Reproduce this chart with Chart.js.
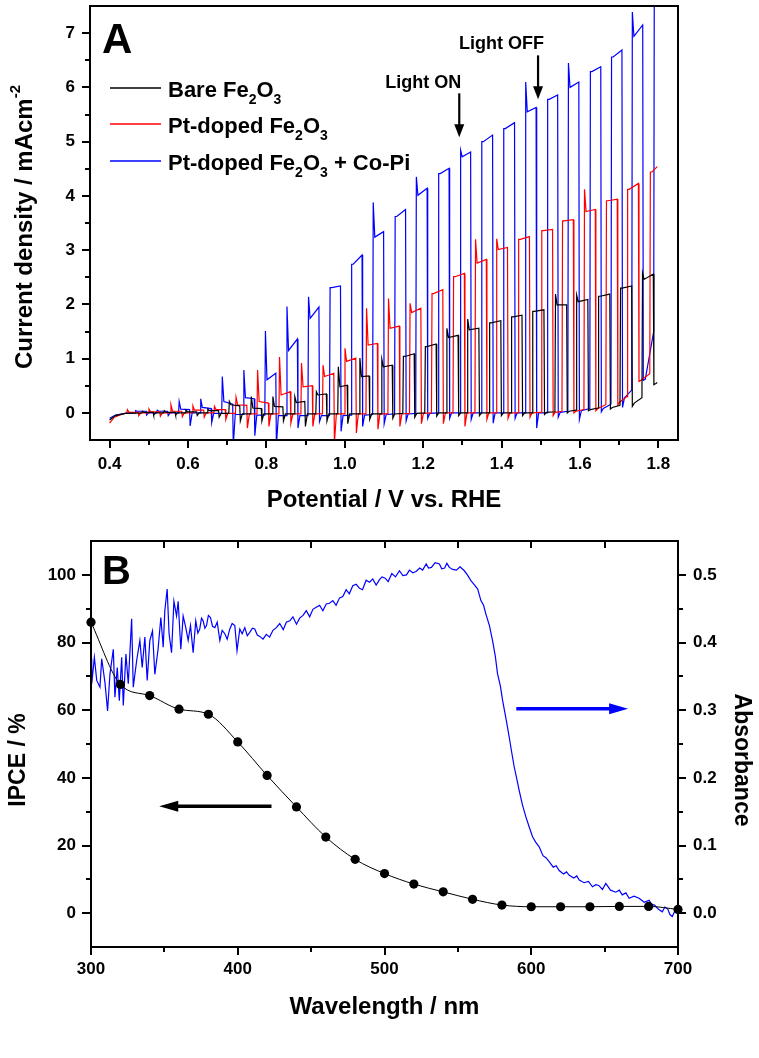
<!DOCTYPE html>
<html><head><meta charset="utf-8">
<script src="https://cdn.jsdelivr.net/npm/chart.js@4.4.1/dist/chart.umd.min.js"></script>
<style>
html,body{margin:0;padding:0;background:#fff;}
#wrapA{position:absolute;left:0;top:0;width:759px;height:530px;}
#wrapB{position:absolute;left:0;top:530px;width:759px;height:528px;}
canvas{display:block;}
</style></head><body>
<div id="wrapA"><canvas id="cA" width="759" height="530"></canvas></div>
<div id="wrapB"><canvas id="cB" width="759" height="528"></canvas></div>
<script>
const FF = '"Liberation Sans", Arial, Helvetica, sans-serif';

// ================= Panel A data (chopped-light LSV) =================
const potentialTicks = [0.4, 0.6, 0.8, 1.0, 1.2, 1.4, 1.6, 1.8];
const potentialMinor = [0.5, 0.7, 0.9, 1.1, 1.3, 1.5, 1.7];
const currentTicks = [0, 1, 2, 3, 4, 5, 6, 7];
const currentMinor = [0.5, 1.5, 2.5, 3.5, 4.5, 5.5, 6.5];

// Bare Fe2O3 (black)
const bareHeadV = [0.400, 0.415, 0.440];
const bareHeadJ = [-0.13, -0.05, -0.01];
const bareOnV   = [0.482,0.538,0.593,0.649,0.704,0.760,0.815,0.871,0.926,0.982,1.037,1.093,1.148,1.204,1.259,1.312,1.368,1.424,1.478,1.536,1.590,1.646,1.702,1.758];
const bareOffV  = [0.511,0.567,0.622,0.678,0.732,0.787,0.842,0.898,0.953,1.006,1.062,1.121,1.177,1.233,1.289,1.342,1.398,1.452,1.508,1.566,1.620,1.676,1.732,1.787];
const barePreJ  = [0,0,0,0,-0.01,-0.02,-0.02,-0.02,-0.02,-0.02,-0.02,-0.02,-0.01,0,0,0,0,0,0,0.02,0.05,0.09,0.14,0.28];
const barePeakJ = [0.03,0.04,0.05,0.07,0.21,0.30,0.30,0.30,0.39,0.85,1.01,0.99,1.04,1.22,1.56,1.73,1.66,1.77,1.87,2.19,2.17,2.15,2.30,2.58];
const bareStartJ= [0.01,0.01,0.02,0.04,0.15,0.09,0.12,0.19,0.33,0.48,0.67,0.85,1.04,1.22,1.39,1.53,1.66,1.77,1.87,1.99,2.05,2.15,2.30,2.46];
const bareEndJ  = [0.01,0.01,0.02,0.04,0.13,0.08,0.11,0.21,0.35,0.51,0.68,0.88,1.09,1.27,1.43,1.56,1.70,1.80,1.90,1.99,2.09,2.19,2.34,2.56];
const bareDipJ  = [-0.04,-0.04,-0.05,-0.08,-0.15,-0.15,-0.15,-0.25,-0.15,-0.20,-0.12,-0.10,-0.08,-0.06,-0.05,-0.05,-0.05,-0.05,-0.03,0.00,0.04,0.07,0.12,0.52];
const bareBaseJ = [0,0,0,-0.01,-0.02,-0.02,-0.02,-0.02,-0.02,-0.02,-0.02,-0.02,-0.01,0,0,0,0,0,0.01,0.03,0.06,0.10,0.18,0.54];
const bareTailV = [1.797];
const bareTailJ = [0.56];

// Pt-doped Fe2O3 (red)
const ptHeadV = [0.400, 0.412, 0.430];
const ptHeadJ = [-0.19, -0.08, -0.03];
const ptOnV   = [0.444,0.499,0.555,0.611,0.666,0.721,0.776,0.832,0.888,0.943,0.999,1.054,1.110,1.165,1.221,1.276,1.332,1.386,1.442,1.501,1.554,1.610,1.666,1.720,1.778];
const ptOffV  = [0.473,0.528,0.584,0.640,0.695,0.750,0.805,0.861,0.917,0.972,1.028,1.083,1.139,1.194,1.250,1.305,1.361,1.415,1.471,1.530,1.583,1.639,1.695,1.749,1.797];
const ptPreJ  = [0,0,0,0,0,-0.01,-0.02,-0.02,-0.02,-0.02,-0.02,-0.02,-0.02,-0.01,0,0,0,0,0,0.01,0.03,0.06,0.15,0.30,0.72];
const ptPeakJ = [0.06,0.07,0.15,0.13,0.12,0.29,0.79,1.03,0.92,0.88,1.19,1.93,2.11,2.02,2.20,2.51,3.20,3.21,3.20,3.36,3.54,4.12,3.91,4.12,4.44];
const ptStartJ= [0.01,0.02,0.03,0.05,0.06,0.15,0.21,0.33,0.48,0.67,0.95,1.25,1.56,1.85,2.20,2.51,2.76,3.01,3.20,3.36,3.54,3.71,3.91,4.12,4.44];
const ptEndJ  = [0.01,0.02,0.03,0.05,0.06,0.14,0.18,0.39,0.50,0.73,1.01,1.28,1.60,1.93,2.27,2.57,2.83,3.05,3.25,3.38,3.56,3.75,3.94,4.23,4.54];
const ptDipJ  = [-0.05,-0.06,-0.07,-0.08,-0.12,-0.28,-0.25,-0.19,-0.25,-0.55,-0.37,-0.30,-0.25,-0.20,-0.20,-0.25,-0.12,-0.10,-0.08,-0.05,0.00,0.04,0.15,0.58,null];
const ptBaseJ = [0,0,0,0,-0.01,-0.02,-0.02,-0.02,-0.02,-0.02,-0.02,-0.02,-0.02,-0.01,0,0,0,0,0,0.01,0.03,0.08,0.20,0.60,null];

// Pt-doped Fe2O3 + Co-Pi (blue)
const copiHeadV = [0.400, 0.415, 0.440];
const copiHeadJ = [-0.10, -0.04, -0.01];
const copiOnV   = [0.465,0.520,0.576,0.631,0.686,0.741,0.796,0.851,0.906,0.961,1.016,1.071,1.127,1.181,1.238,1.294,1.348,1.404,1.460,1.516,1.569,1.625,1.679,1.732,1.788];
const copiOffV  = [0.493,0.548,0.604,0.659,0.714,0.769,0.824,0.879,0.934,0.989,1.044,1.099,1.155,1.210,1.266,1.321,1.377,1.433,1.488,1.543,1.597,1.653,1.707,1.760,1.792];
const copiPreJ  = [0,0,0,0,-0.01,-0.03,-0.04,-0.05,-0.05,-0.05,-0.04,-0.03,-0.02,-0.01,0,0,0,0,0,0,0.03,0.08,0.16,0.42,1.50];
const copiPeakJ = [0.04,0.05,0.21,0.26,0.67,0.79,1.51,1.96,2.14,2.31,2.74,3.88,3.62,4.35,4.41,4.84,5.00,5.24,6.10,5.78,6.45,6.29,6.56,7.39,7.90];
const copiStartJ= [0.03,0.03,0.07,0.10,0.21,0.28,0.61,1.15,1.74,2.31,2.74,3.24,3.62,4.01,4.41,4.72,5.00,5.24,5.55,5.78,6.00,6.29,6.56,6.94,7.90];
const copiEndJ  = [0.03,0.03,0.06,0.08,0.16,0.26,0.73,1.36,1.95,2.34,2.91,3.34,3.75,4.14,4.51,4.81,5.12,5.35,5.63,5.86,6.10,6.38,6.69,7.15,7.90];
const copiDipJ  = [-0.04,-0.05,-0.24,-0.18,-0.60,-0.42,-0.60,-0.28,-0.16,-0.34,-0.25,-0.20,-0.15,-0.10,-0.10,-0.12,-0.19,-0.10,-0.28,-0.08,-0.12,0.02,0.10,0.60,null];
const copiBaseJ = [0,0,0,-0.01,-0.03,-0.04,-0.05,-0.05,-0.05,-0.05,-0.04,-0.03,-0.02,-0.01,0,0,0,0,0,0.01,0.04,0.08,0.28,0.62,null];

// ================= Panel B data =================
const wavelengthTicks = [300, 400, 500, 600, 700];
const wavelengthMinor = [350, 450, 550, 650];
const ipceTicks = [0, 20, 40, 60, 80, 100];
const ipceMinor = [10, 30, 50, 70, 90];
const absTicks = [0, 0.1, 0.2, 0.3, 0.4, 0.5];
const absMinor = [0.05, 0.15, 0.25, 0.35, 0.45];

const ipceNm  = [300,320,340,360,380,400,420,440,460,480,500,520,540,560,580,600,620,640,660,680,700];
const ipceVal = [86.0,67.6,64.3,60.3,58.8,50.6,40.7,31.4,22.5,15.9,11.7,8.6,6.3,4.1,2.4,1.9,1.9,1.9,2.0,2.0,1.1];

const absNm = [300,300.5,302.3,303.9,306.1,307.3,309.5,311.3,312.9,315.2,316.3,317.9,319.3,320.9,322.0,323.8,325.4,327.7,328.8,331.1,
  333.3,334.9,336.7,338.3,340.1,341.9,343.5,345.7,347.6,349.2,350.3,351.9,353.2,354.9,356.5,358.3,359.4,361.2,362.8,364.6,
  366.2,367.8,369.6,371.4,372.8,374.1,375.3,376.4,377.6,378.7,380.0,381.4,382.8,384.4,386.0,387.8,389.4,391.2,392.8,394.6,396.2,398.0,399.5,401.4,
  403.0,404.8,406.5,408.2,410.0,411.6,413.3,415.0,417.2,419.5,421.7,424.0,426.3,428.6,431.0,433.1,435.5,437.6,440.0,442.2,444.5,446.7,449.0,451.2,453.5,455.8,
  458.0,460.3,462.5,464.8,467.0,469.4,471.6,473.9,476.0,478.4,480.7,483.0,485.0,487.5,489.8,492.0,494.3,496.6,498.3,500.5,502.5,505.0,507.5,510.2,512.5,515.0,
  517.0,519.3,521.5,524.0,526.0,528.4,530.0,532.0,534.5,537.4,539.0,541.0,542.5,544.2,546.5,549.0,551.5,554.4,556.5,559.0,561.0,563.5,565.7,567.5,569.1,
  571.5,573.6,575.5,577.0,579.0,580.5,583.0,585.0,586.5,588.4,590.0,591.8,594.0,596.4,598.5,600.9,603.0,605.4,608.0,610.0,612.2,615.0,617.0,619.0,622.0,
  624.0,625.9,629.0,631.0,632.7,636.0,639.0,641.7,644.0,646.0,648.5,650.8,654.0,657.6,660.0,662.0,664.5,666.7,670.0,673.5,677.0,680.3,682.0,684.0,686.5,
  689.3,691.0,693.0,694.5,696.1,698.0,700.0];
const absVal = [0.376,0.339,0.378,0.344,0.334,0.376,0.341,0.299,0.353,0.390,0.319,0.363,0.314,0.378,0.307,0.383,0.339,0.435,0.334,0.373,
  0.403,0.363,0.408,0.344,0.403,0.417,0.353,0.390,0.437,0.393,0.447,0.479,0.413,0.385,0.461,0.439,0.461,0.390,0.439,0.422,
  0.403,0.425,0.385,0.432,0.414,0.420,0.436,0.432,0.421,0.425,0.440,0.437,0.424,0.422,0.430,0.403,0.418,0.413,0.405,0.420,0.428,0.425,0.388,0.420,
  0.413,0.422,0.410,0.415,0.421,0.420,0.411,0.409,0.405,0.412,0.408,0.418,0.422,0.428,0.419,0.430,0.432,0.438,0.427,0.436,0.440,0.447,0.438,0.449,0.452,0.455,
  0.447,0.457,0.458,0.462,0.455,0.466,0.468,0.478,0.472,0.484,0.486,0.480,0.478,0.492,0.489,0.494,0.485,0.493,0.497,0.495,0.490,0.502,0.497,0.506,0.499,0.500,
  0.507,0.503,0.505,0.510,0.507,0.516,0.510,0.511,0.518,0.516,0.509,0.510,0.517,0.511,0.508,0.507,0.512,0.506,0.500,0.491,0.486,0.479,0.462,0.455,0.442,
  0.425,0.403,0.380,0.354,0.335,0.314,0.285,0.260,0.240,0.216,0.200,0.181,0.160,0.142,0.128,0.113,0.105,0.098,0.085,0.082,0.076,0.068,0.070,0.063,0.058,
  0.061,0.056,0.052,0.055,0.049,0.045,0.047,0.039,0.042,0.041,0.035,0.044,0.034,0.031,0.034,0.027,0.030,0.022,0.025,0.022,0.016,0.019,0.013,0.012,0.006,
  0.002,0.009,0.006,-0.002,-0.005,0.004,0.002];

// ================= helpers =================
function buildTrace(headV, headJ, onV, offV, preJ, peakJ, startJ, endJ, dipJ, baseJ, tailV, tailJ) {
  const pts = headV.map((v, i) => ({x: v, y: headJ[i]}));
  for (let i = 0; i < onV.length; i++) {
    pts.push({x: onV[i], y: preJ[i]});
    pts.push({x: onV[i] + 0.0015, y: peakJ[i]});
    pts.push({x: onV[i] + 0.0055, y: startJ[i]});
    pts.push({x: offV[i], y: endJ[i]});
    if (dipJ[i] !== null) {
      pts.push({x: offV[i] + 0.0015, y: dipJ[i]});
      pts.push({x: offV[i] + 0.0065, y: baseJ[i]});
    }
  }
  (tailV || []).forEach((v, i) => pts.push({x: v, y: tailJ[i]}));
  return pts;
}
function font(sz) { return 'bold ' + sz + 'px ' + FF; }
function richWidth(ctx, segs, size) {
  let w = 0;
  for (const s of segs) { ctx.font = font((s.sub || s.sup) ? Math.round(size * 0.64) : size); w += ctx.measureText(s.t).width; }
  return w;
}
function drawRich(ctx, segs, x, y, size, align) {
  const w = richWidth(ctx, segs, size);
  let cx = align === 'center' ? x - w / 2 : x;
  ctx.textAlign = 'left'; ctx.textBaseline = 'alphabetic';
  for (const s of segs) {
    const fs = (s.sub || s.sup) ? Math.round(size * 0.64) : size;
    ctx.font = font(fs);
    const dy = s.sub ? size * 0.32 : (s.sup ? -size * 0.48 : 0);
    ctx.fillText(s.t, cx, y + dy);
    cx += ctx.measureText(s.t).width;
  }
}
function arrow(ctx, x1, y1, x2, y2, color, lw, hl, hw) {
  const dx = x2 - x1, dy = y2 - y1, L = Math.hypot(dx, dy), ux = dx / L, uy = dy / L;
  const bx = x2 - ux * hl, by = y2 - uy * hl;
  ctx.save();
  ctx.strokeStyle = color; ctx.fillStyle = color; ctx.lineWidth = lw;
  ctx.beginPath(); ctx.moveTo(x1, y1); ctx.lineTo(bx + ux * 1, by + uy * 1); ctx.stroke();
  ctx.beginPath(); ctx.moveTo(x2, y2); ctx.lineTo(bx - uy * hw, by + ux * hw); ctx.lineTo(bx + uy * hw, by - ux * hw); ctx.closePath(); ctx.fill();
  ctx.restore();
}
function decor(tickSpecs) {
  return {
    id: 'decor',
    afterDraw(chart) {
      const ctx = chart.ctx, a = chart.chartArea;
      ctx.save();
      ctx.strokeStyle = '#000';
      ctx.lineWidth = 2;
      ctx.strokeRect(a.left, a.top, a.right - a.left, a.bottom - a.top);
      for (const t of tickSpecs) {
        const sc = chart.scales[t.scale];
        ctx.lineWidth = t.w || 2;
        ctx.beginPath();
        for (const v of t.values) {
          const p = Math.round(sc.getPixelForValue(v));
          if (t.side === 'left') { ctx.moveTo(a.left, p); ctx.lineTo(a.left - t.len, p); }
          else if (t.side === 'right') { ctx.moveTo(a.right, p); ctx.lineTo(a.right + t.len, p); }
          else if (t.side === 'bottom') { ctx.moveTo(p, a.bottom); ctx.lineTo(p, a.bottom + t.len); }
          else if (t.side === 'top') { ctx.moveTo(p, a.top); ctx.lineTo(p, a.top + t.len); }
        }
        ctx.stroke();
      }
      ctx.restore();
    }
  };
}
const tickFont = {family: FF, size: 17, weight: 'bold'};
function fixV(w) { return s => { s.width = w; s.paddingTop = 0; s.paddingBottom = 0; }; }
function fixH(h) { return s => { s.height = h; s.paddingLeft = 0; s.paddingRight = 0; }; }

// ================= Chart A =================
const textA = {
  id: 'textA',
  afterDraw(chart) {
    const ctx = chart.ctx, a = chart.chartArea, xs = chart.scales.x, ys = chart.scales.y;
    ctx.save();
    ctx.fillStyle = '#000';
    ctx.font = font(42); ctx.textAlign = 'left'; ctx.textBaseline = 'alphabetic';
    ctx.fillText('A', a.left + 12, a.top + 47);
    const legend = [
      {c: '#000000', segs: [{t: 'Bare Fe'}, {t: '2', sub: 1}, {t: 'O'}, {t: '3', sub: 1}]},
      {c: '#ff0000', segs: [{t: 'Pt-doped Fe'}, {t: '2', sub: 1}, {t: 'O'}, {t: '3', sub: 1}]},
      {c: '#0000ff', segs: [{t: 'Pt-doped Fe'}, {t: '2', sub: 1}, {t: 'O'}, {t: '3', sub: 1}, {t: ' + Co-Pi'}]}
    ];
    const ly = [88, 124, 161];
    legend.forEach((l, i) => {
      ctx.strokeStyle = l.c; ctx.lineWidth = 1.3;
      ctx.beginPath(); ctx.moveTo(a.left + 20, ly[i]); ctx.lineTo(a.left + 71, ly[i]); ctx.stroke();
      ctx.fillStyle = '#000';
      drawRich(ctx, l.segs, a.left + 78, ly[i] + 8.5, 22, 'left');
    });
    ctx.font = font(18); ctx.textAlign = 'center'; ctx.textBaseline = 'alphabetic';
    ctx.fillText('Light ON', xs.getPixelForValue(1.200), ys.getPixelForValue(5.99));
    ctx.fillText('Light OFF', xs.getPixelForValue(1.400), ys.getPixelForValue(6.70));
    arrow(ctx, xs.getPixelForValue(1.292), ys.getPixelForValue(5.89), xs.getPixelForValue(1.292), ys.getPixelForValue(5.08), '#000', 2.2, 13, 5);
    arrow(ctx, xs.getPixelForValue(1.493), ys.getPixelForValue(6.59), xs.getPixelForValue(1.493), ys.getPixelForValue(5.78), '#000', 2.2, 13, 5);
    ctx.fillStyle = '#000';
    drawRich(ctx, [{t: 'Potential / V vs. RHE'}], (a.left + a.right) / 2, 507, 24, 'center');
    ctx.save();
    ctx.translate(32, 227); ctx.rotate(-Math.PI / 2);
    drawRich(ctx, [{t: 'Current density / mAcm'}, {t: '-2', sup: 1}], 0, 0, 24, 'center');
    ctx.restore();
    ctx.restore();
  }
};

new Chart(document.getElementById('cA'), {
  type: 'line',
  data: {
    datasets: [
      {label: 'Bare Fe2O3', data: buildTrace(bareHeadV, bareHeadJ, bareOnV, bareOffV, barePreJ, barePeakJ, bareStartJ, bareEndJ, bareDipJ, bareBaseJ, bareTailV, bareTailJ), borderColor: '#000000', borderWidth: 1.2},
      {label: 'Pt-doped Fe2O3', data: buildTrace(ptHeadV, ptHeadJ, ptOnV, ptOffV, ptPreJ, ptPeakJ, ptStartJ, ptEndJ, ptDipJ, ptBaseJ), borderColor: '#ff0000', borderWidth: 1.2},
      {label: 'Pt-doped Fe2O3 + Co-Pi', data: buildTrace(copiHeadV, copiHeadJ, copiOnV, copiOffV, copiPreJ, copiPeakJ, copiStartJ, copiEndJ, copiDipJ, copiBaseJ), borderColor: '#0000ff', borderWidth: 1.2}
    ]
  },
  options: {
    responsive: false, animation: false,
    layout: {padding: {left: 0, right: 81, top: 6, bottom: 0}},
    plugins: {legend: {display: false}, tooltip: {enabled: false}},
    elements: {point: {radius: 0}, line: {tension: 0}},
    scales: {
      x: {type: 'linear', min: 0.35, max: 1.85,
        grid: {display: false, drawTicks: false}, border: {display: false},
        afterBuildTicks: s => { s.ticks = potentialTicks.map(v => ({value: v})); },
        afterFit: fixH(90),
        ticks: {font: tickFont, color: '#000', padding: 14, maxRotation: 0, autoSkip: false, callback: v => Number(v).toFixed(1)}},
      y: {type: 'linear', min: -0.5, max: 7.5,
        grid: {display: false, drawTicks: false}, border: {display: false},
        afterBuildTicks: s => { s.ticks = currentTicks.map(v => ({value: v})); },
        afterFit: fixV(90),
        ticks: {font: tickFont, color: '#000', padding: 15, callback: v => String(v)}}
    }
  },
  plugins: [decor([
    {scale: 'y', side: 'left', values: currentTicks, len: 8},
    {scale: 'y', side: 'left', values: currentMinor, len: 5},
    {scale: 'x', side: 'bottom', values: potentialTicks, len: 8},
    {scale: 'x', side: 'bottom', values: potentialMinor, len: 5}
  ]), textA]
});

// ================= Chart B =================
const textB = {
  id: 'textB',
  afterDraw(chart) {
    const ctx = chart.ctx, a = chart.chartArea, xs = chart.scales.x, yl = chart.scales.y, yr = chart.scales.y2;
    ctx.save();
    ctx.fillStyle = '#000';
    ctx.font = font(40); ctx.textAlign = 'left'; ctx.textBaseline = 'alphabetic';
    ctx.fillText('B', a.left + 11, a.top + 43);
    arrow(ctx, xs.getPixelForValue(423), yl.getPixelForValue(31.6), xs.getPixelForValue(346.5), yl.getPixelForValue(31.6), '#000', 3.5, 19, 5.5);
    arrow(ctx, xs.getPixelForValue(589.8), yr.getPixelForValue(0.302), xs.getPixelForValue(666), yr.getPixelForValue(0.302), '#0000ff', 3.5, 19, 5.5);
    ctx.fillStyle = '#000';
    drawRich(ctx, [{t: 'Wavelength / nm'}], (a.left + a.right) / 2, 484, 24, 'center');
    ctx.save();
    ctx.translate(25, 230); ctx.rotate(-Math.PI / 2);
    drawRich(ctx, [{t: 'IPCE / %'}], 0, 0, 23, 'center');
    ctx.restore();
    ctx.save();
    ctx.translate(735, 230); ctx.rotate(Math.PI / 2);
    drawRich(ctx, [{t: 'Absorbance'}], 0, 0, 23, 'center');
    ctx.restore();
    ctx.restore();
  }
};

new Chart(document.getElementById('cB'), {
  type: 'line',
  data: {
    datasets: [
      {label: 'IPCE', yAxisID: 'y', data: ipceNm.map((n, i) => ({x: n, y: ipceVal[i]})),
        borderColor: '#000', borderWidth: 1, pointRadius: 4.6, pointBackgroundColor: '#000', pointBorderWidth: 0,
        cubicInterpolationMode: 'monotone', clip: false},
      {label: 'Absorbance', yAxisID: 'y2', data: absNm.map((n, i) => ({x: n, y: absVal[i]})),
        borderColor: '#0000ff', borderWidth: 1.2, pointRadius: 0, tension: 0}
    ]
  },
  options: {
    responsive: false, animation: false,
    layout: {padding: {left: 0, right: 0, top: 11, bottom: 0}},
    plugins: {legend: {display: false}, tooltip: {enabled: false}},
    scales: {
      x: {type: 'linear', min: 300, max: 700,
        grid: {display: false, drawTicks: false}, border: {display: false},
        afterBuildTicks: s => { s.ticks = wavelengthTicks.map(v => ({value: v})); },
        afterFit: fixH(111),
        ticks: {font: tickFont, color: '#000', padding: 12, maxRotation: 0, autoSkip: false, callback: v => String(v)}},
      y: {type: 'linear', position: 'left', min: -10, max: 110,
        grid: {display: false, drawTicks: false}, border: {display: false},
        afterBuildTicks: s => { s.ticks = ipceTicks.map(v => ({value: v})); },
        afterFit: fixV(91),
        ticks: {font: tickFont, color: '#000', padding: 15, callback: v => String(v)}},
      y2: {type: 'linear', position: 'right', min: -0.05, max: 0.55,
        grid: {display: false, drawTicks: false}, border: {display: false},
        afterBuildTicks: s => { s.ticks = absTicks.map(v => ({value: v})); },
        afterFit: fixV(81),
        ticks: {font: tickFont, color: '#000', padding: 15, callback: v => Number(v).toFixed(1)}}
    }
  },
  plugins: [decor([
    {scale: 'y', side: 'left', values: ipceTicks, len: 9},
    {scale: 'y', side: 'left', values: ipceMinor, len: 5},
    {scale: 'y2', side: 'right', values: absTicks, len: 8},
    {scale: 'y2', side: 'right', values: absMinor, len: 5},
    {scale: 'x', side: 'bottom', values: wavelengthTicks, len: 8},
    {scale: 'x', side: 'bottom', values: wavelengthMinor, len: 5},
    {scale: 'x', side: 'top', values: [350, 400, 450, 500, 550, 600, 650], len: 7}
  ]), textB]
});
</script>
</body></html>
